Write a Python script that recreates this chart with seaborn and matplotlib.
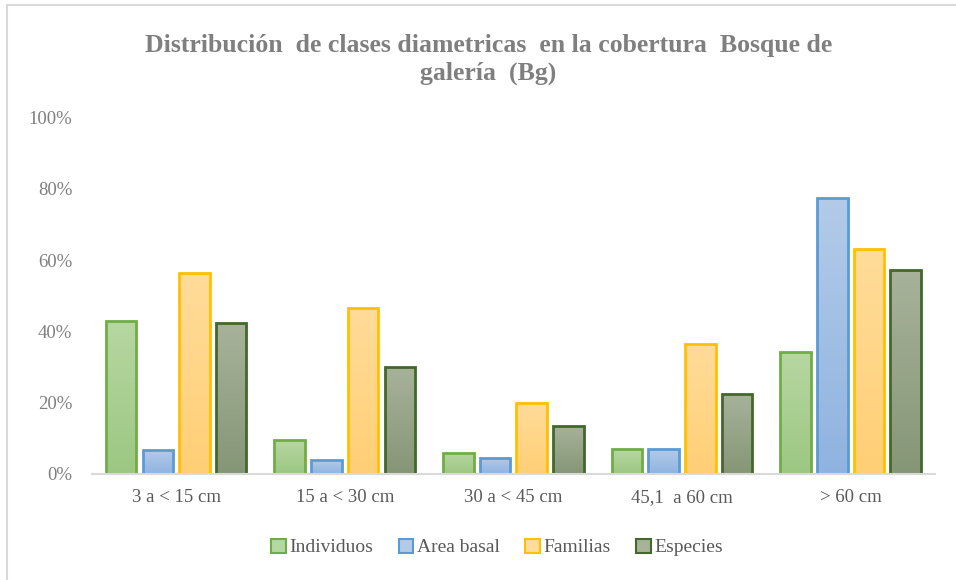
import numpy as np
import pandas as pd
import matplotlib
matplotlib.use("Agg")
import matplotlib.pyplot as plt
import seaborn as sns
from matplotlib.patches import Patch
from matplotlib.lines import Line2D
from matplotlib.colors import LinearSegmentedColormap

categories = ["3 a < 15 cm", "15 a < 30 cm", "30 a < 45 cm", "45,1  a 60 cm", "> 60 cm"]
series = ["Individuos", "Area basal", "Familias", "Especies"]
individuos = [0.43, 0.096, 0.059, 0.07, 0.343]
area_basal = [0.067, 0.039, 0.045, 0.07, 0.776]
familias = [0.565, 0.467, 0.20, 0.366, 0.632]
especies = [0.424, 0.30, 0.135, 0.225, 0.573]
yticks = [0, 0.2, 0.4, 0.6, 0.8, 1.0]
ytick_labels = ["0%", "20%", "40%", "60%", "80%", "100%"]

edge_colors = ["#70AD47", "#5B9BD5", "#FFC000", "#43682B"]
fill_top = ["#B7D7A2", "#B3CBE9", "#FFDC9A", "#A8B29B"]
fill_bot = ["#9CC782", "#8FB3E0", "#FFCF75", "#859676"]

df = pd.DataFrame({
    "Clase": categories * 4,
    "Serie": sum([[s] * len(categories) for s in series], []),
    "Valor": individuos + area_basal + familias + especies,
})

sns.set_theme(style="white")
plt.rcParams["font.family"] = ["Liberation Serif", "DejaVu Serif"]

fig = plt.figure(figsize=(9.56, 5.8), dpi=100)
ax = fig.add_axes([0.096, 0.183, 0.882, 0.614])

sns.barplot(data=df, x="Clase", y="Valor", hue="Serie", hue_order=series,
            order=categories, palette=edge_colors, width=0.87, gap=0.17,
            ax=ax, legend=False, saturation=1)

ax.set_ylim(0, 1.0)
ax.set_xlim(-0.5, 4.5)

# gradient fill for bars
for i, cont in enumerate(ax.containers):
    cmap = LinearSegmentedColormap.from_list("g", [fill_bot[i], fill_top[i]])
    grad = np.linspace(0, 1, 256).reshape(-1, 1)
    for p in cont.patches:
        x0, y0 = p.get_x(), p.get_y()
        w, h = p.get_width(), p.get_height()
        im = ax.imshow(grad, cmap=cmap, aspect="auto", origin="lower",
                       extent=[x0, x0 + w, y0, y0 + h], zorder=2)
        im.set_clip_path(p)
        p.set_facecolor("none")
        p.set_edgecolor(edge_colors[i])
        p.set_linewidth(2.0)
        p.set_zorder(3)
ax.set_xlim(-0.5, 4.5)
ax.set_ylim(0, 1.0)

ax.set_yticks(yticks)
ax.set_yticklabels(ytick_labels, color="#7F7F7F", fontsize=13.5)
ax.set_xticks(range(len(categories)))
ax.set_xticklabels(categories, color="#595959", fontsize=13.5)
ax.tick_params(axis="x", length=0, pad=11)
ax.tick_params(axis="y", length=0, pad=14)
ax.set_xlabel("")
ax.set_ylabel("")
for s in ["top", "right", "left"]:
    ax.spines[s].set_visible(False)
ax.spines["bottom"].set_color("#D9D9D9")
ax.spines["bottom"].set_linewidth(1.5)
ax.spines["bottom"].set_zorder(4)

fig.text(0.511, 0.898, "Distribución  de clases diametricas  en la cobertura  Bosque de\ngalería  (Bg)",
         ha="center", va="center", fontsize=18.5, fontweight="bold", color="#7F7F7F",
         linespacing=1.25)

handles = [Patch(facecolor=fill_top[i], edgecolor=edge_colors[i], linewidth=1.5, label=series[i])
           for i in range(4)]
leg = fig.legend(handles=handles, loc="center", bbox_to_anchor=(0.52, 0.056), ncol=4,
                 frameon=False, fontsize=14, handlelength=0.75, handleheight=0.75,
                 handletextpad=0.2, columnspacing=1.3)
for t in leg.get_texts():
    t.set_color("#595959")

# light frame on top and left
fig.add_artist(Line2D([0.0075, 1.0], [0.991, 0.991], transform=fig.transFigure,
                      color="#D9D9D9", linewidth=1.5))
fig.add_artist(Line2D([0.0075, 0.0075], [0.0, 0.991], transform=fig.transFigure,
                      color="#D9D9D9", linewidth=1.5))

fig.savefig("out.png", dpi=100, facecolor="white")
